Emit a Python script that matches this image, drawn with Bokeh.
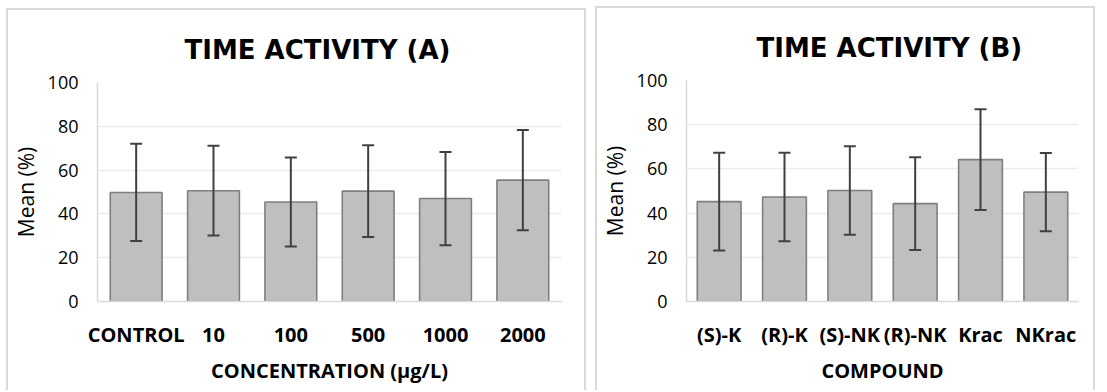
from bokeh.plotting import figure
from bokeh.models import Range1d, Whisker, TeeHead, ColumnDataSource, FixedTicker
from bokeh.layouts import row
from bokeh.embed import file_html
from bokeh.resources import INLINE

# ---- data ----
conc_labels = ["CONTROL", "10", "100", "500", "1000", "2000"]
conc_mean = [49.8, 50.6, 45.4, 50.4, 47.0, 55.4]
conc_err = [22.2, 20.5, 20.3, 21.0, 21.3, 22.9]

comp_labels = ["(S)-K", "(R)-K", "(S)-NK", "(R)-NK", "Krac", "NKrac"]
comp_mean = [45.2, 47.3, 50.2, 44.3, 64.2, 49.5]
comp_err = [22.1, 20.0, 20.0, 21.0, 22.8, 17.7]

y_ticks = [0, 20, 40, 60, 80, 100]

FONT = "Open Sans"
TITLE_FONT = "DejaVu Sans"


def panel(labels, means, errs, title, xlabel, width, height, mbl, mbr, mbt, mbb,
          title_offset, margin):
    src = ColumnDataSource(dict(
        x=labels, y=means,
        upper=[m + e for m, e in zip(means, errs)],
        lower=[m - e for m, e in zip(means, errs)],
    ))
    p = figure(x_range=labels, y_range=Range1d(0, 100), width=width, height=height,
               output_backend="svg", toolbar_location=None, title=title,
               min_border_left=mbl, min_border_right=mbr, min_border_top=mbt,
               min_border_bottom=mbb, margin=margin)
    p.styles = {"border-top": "2px solid #d9d9d9", "border-left": "2px solid #d9d9d9",
                "border-right": "2px solid #d9d9d9"}
    p.outline_line_color = None
    p.background_fill_color = "white"
    p.border_fill_color = "white"

    p.title.text_font = TITLE_FONT
    p.title.text_font_size = "26px"
    p.title.text_font_style = "bold"
    p.title.text_color = "#000000"
    p.title.align = "left"
    p.title.offset = title_offset
    p.title.standoff = 36

    p.vbar(x="x", top="y", width=0.67, source=src, fill_color="#bfbfbf",
           line_color="#7f7f7f", line_width=1.6)
    w = Whisker(base="x", upper="upper", lower="lower", source=src,
                line_color="#404040", line_width=2, level="overlay",
                upper_head=TeeHead(size=12, line_color="#404040", line_width=2),
                lower_head=TeeHead(size=12, line_color="#404040", line_width=2))
    p.add_layout(w)

    p.yaxis.ticker = FixedTicker(ticks=y_ticks)
    p.yaxis.major_tick_out = 0
    p.yaxis.major_tick_in = 0
    p.yaxis.minor_tick_out = 0
    p.yaxis.minor_tick_in = 0
    p.yaxis.axis_line_color = "#d9d9d9"
    p.yaxis.axis_line_width = 1.5
    p.yaxis.major_label_standoff = 19
    p.yaxis.major_label_text_font = FONT
    p.yaxis.major_label_text_font_size = "18px"
    p.yaxis.major_label_text_color = "#000000"
    p.yaxis.axis_label = "Mean (%)"
    p.yaxis.axis_label_text_font = FONT
    p.yaxis.axis_label_text_font_size = "21px"
    p.yaxis.axis_label_text_font_style = "normal"
    p.yaxis.axis_label_text_color = "#000000"
    p.yaxis.axis_label_standoff = 5

    p.xaxis.major_tick_out = 0
    p.xaxis.major_tick_in = 0
    p.xaxis.axis_line_color = "#d9d9d9"
    p.xaxis.axis_line_width = 1.5
    p.xaxis.major_label_standoff = 19
    p.xaxis.major_label_text_font = FONT
    p.xaxis.major_label_text_font_size = "20px"
    p.xaxis.major_label_text_font_style = "bold"
    p.xaxis.major_label_text_color = "#000000"
    p.xaxis.axis_label = xlabel
    p.xaxis.axis_label_text_font = FONT
    p.xaxis.axis_label_text_font_size = "20px"
    p.xaxis.axis_label_text_font_style = "bold"
    p.xaxis.axis_label_text_color = "#000000"
    p.xaxis.axis_label_standoff = 6

    p.xgrid.grid_line_color = None
    p.ygrid.grid_line_color = "#ececec"
    p.ygrid.grid_line_width = 1.5
    return p


p1 = panel(conc_labels, conc_mean, conc_err, "TIME ACTIVITY (A)",
           "CONCENTRATION (\u00b5g/L)", 580, 382, 89, 27, 70, 91, 87, (8, 0, 0, 6))
p2 = panel(comp_labels, comp_mean, comp_err, "TIME ACTIVITY (B)",
           "COMPOUND", 500, 384, 82, 19, 72, 91, 70, (6, 0, 0, 9))

layout = row(p1, p2)
open("out.html", "w").write(file_html(layout, INLINE))
